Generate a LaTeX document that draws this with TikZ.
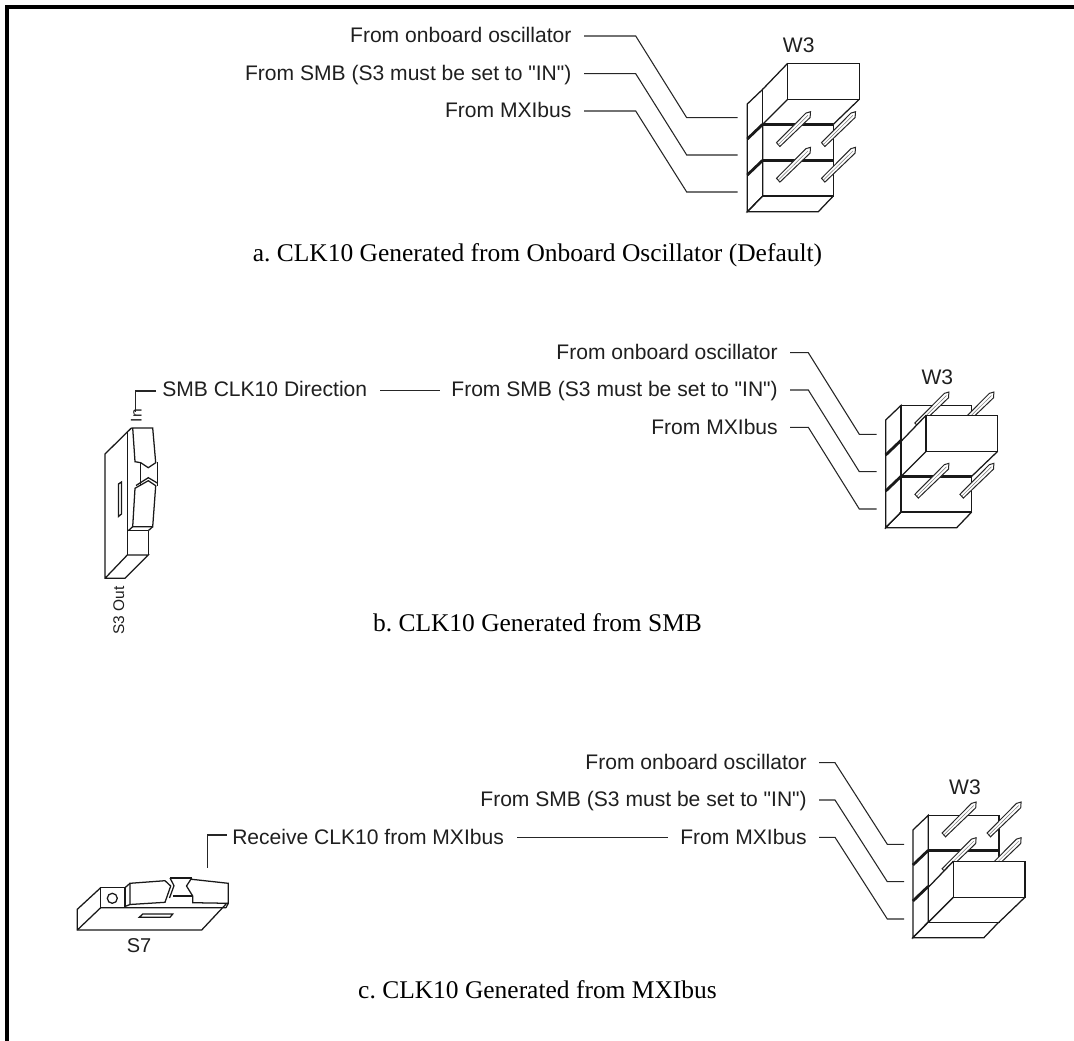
\documentclass[tikz,border=0pt]{standalone}
\usepackage{fontspec}
\setmainfont{Liberation Serif}
\newfontfamily\labelfont{Liberation Sans}
\frenchspacing
\newcommand{\pinshape}[2]{%
  \begin{scope}[shift={(#1,#2)}]
    \draw[pinline,fill=white] (0,0) -- (3.4,3.8) -- (33.6,-25.2) -- (34,-31) -- (29.4,-29.6) -- cycle;
    \draw[black!55,line width=0.35pt] (1.7,1.9) -- (31.5,-27.4);
  \end{scope}}
\newcommand{\jumper}[4]{%
 % #1,#2 shift ; #3 shunt offset ; #4 style of shunt bottom edge
 \begin{scope}[shift={(#1,#2)}]
  \draw[thin line] (747.3,104) -- (762.7,89.3) -- (762.7,196) -- (747.3,211.7) -- cycle;
  \draw[thin line] (762.7,89.3) -- (833.3,89.3) -- (833.3,196) -- (762.7,196);
  \draw[thin line] (762.7,196) -- (747.3,211.7) -- (818.3,211.7) -- (833.3,196);
  \draw[thick line] (762.7,124.3) -- (833.3,124.3);
  \draw[thick line] (762.7,160.3) -- (833.3,160.3);
  \draw[thick line] (747.3,139) -- (762.7,124.3);
  \draw[thick line] (747.3,175) -- (762.7,160.3);
  % pin rows behind the shunt
  \ifdim#3pt>0pt
    \pinshape{776.5}{107}\pinshape{821.5}{107}
  \fi
  \ifdim#3pt>36pt
    \pinshape{776.5}{142.7}\pinshape{821.5}{142.7}
  \fi
  \begin{scope}[shift={(0,#3)}]
   \fill[white] (787.7,63.3) -- (859.3,63.3) -- (859.3,99.3) -- (833.3,124.3) -- (762.7,124.3) -- (762.7,89.3) -- cycle;
   \draw[thin line] (787.7,63.3) rectangle (859.3,99.3);
   \draw[thin line] (787.7,63.3) -- (762.7,89.3);
   \draw[thin line] (787.7,99.3) -- (762.7,124.3);
   \draw[thin line] (859.3,99.3) -- (833.3,124.3);
   \draw[#4] (762.7,124.3) -- (833.3,124.3);
  \end{scope}
  \draw[thin line] (762.7,89.3) -- (762.7,196);
  % pin rows in front of the shunt
  \ifdim#3pt<36pt
    \pinshape{776.5}{142.7}\pinshape{821.5}{142.7}
  \fi
  \ifdim#3pt<72pt
    \pinshape{776.5}{178.3}\pinshape{821.5}{178.3}
  \fi
 \end{scope}}
\tikzset{
  thin line/.style={line width=0.95pt,line join=miter,black!90},
  thick line/.style={line width=2.1pt,black!90},
  pinline/.style={line width=0.75pt,line join=miter,black!85},
  leader/.style={line width=0.8pt,black!85},
  frameline/.style={line width=3pt,black},
  lab/.style={font=\labelfont\fontsize{15.8}{18}\selectfont,inner sep=0pt,text=black!88},
  smalllab/.style={font=\labelfont\fontsize{11.6}{13}\selectfont,inner sep=0pt,text=black!88},
  capt/.style={font=\fontsize{19.1}{22}\selectfont,inner sep=0pt,anchor=base,text=black},
}
\begin{document}
\begin{tikzpicture}[x=0.75pt,y=-0.75pt]
\useasboundingbox (0,0) rectangle (1074,1041);
% frame
\coordinate (fa) at (6.5,1041);
\coordinate (fb) at (6.5,7);
\coordinate (fc) at (1074,7);
\draw[frameline] (fa) -- (fb) -- (fc);

% --- a ---
\jumper{0}{0}{0}{thick line}
\node[lab,anchor=base] (wa) at (798.7,52.7) {W3};
\node[lab,anchor=base east] (a1) at (571.7,42.7) {From onboard oscillator};
\node[lab,anchor=base east] (a2) at (571.7,80.4) {From SMB (S3 must be set to "IN")};
\node[lab,anchor=base east] (a3) at (571.7,117.7) {From MXIbus};
\coordinate (a1s) at (584,36);   \coordinate (a1e) at (737.7,117.7);
\coordinate (a2s) at (584,73.7); \coordinate (a2e) at (737.7,155);
\coordinate (a3s) at (584,111);  \coordinate (a3e) at (737.7,192);
\draw[leader] (a1s) -- (635.7,36) -- (686.7,117.7) -- (a1e);
\draw[leader] (a2s) -- (635.7,73.7) -- (686.7,155) -- (a2e);
\draw[leader] (a3s) -- (635.7,111) -- (686.7,192) -- (a3e);
\node[capt] (ca) at (537.5,261.5) {a. CLK10 Generated from Onboard Oscillator (Default)};

% --- b ---
\jumper{138.4}{316}{36}{thick line}
\node[lab,anchor=base] (wb) at (937.3,384.3) {W3};
\node[lab,anchor=base east] (b1) at (778,359.4) {From onboard oscillator};
\node[lab,anchor=base east] (b2) at (778,396.7) {From SMB (S3 must be set to "IN")};
\node[lab,anchor=base east] (b3) at (778,434) {From MXIbus};
\coordinate (b1s) at (790,352.7); \coordinate (b1e) at (876.7,434.3);
\coordinate (b2s) at (790,390);   \coordinate (b2e) at (876.7,471.7);
\coordinate (b3s) at (790,427.3); \coordinate (b3e) at (876.7,509);
\draw[leader] (b1s) -- (808.3,352.7) -- (859.3,434.3) -- (b1e);
\draw[leader] (b2s) -- (808.3,390) -- (859.3,471.7) -- (b2e);
\draw[leader] (b3s) -- (808.3,427.3) -- (859.3,509) -- (b3e);
\node[lab,anchor=base west] (bd) at (162,396.7) {SMB CLK10 Direction};
\coordinate (bd1) at (380,390.3); \coordinate (bd2) at (440,390.3);
\draw[leader] (bd1) -- (bd2);
\coordinate (bin1) at (156,391); \coordinate (bin2) at (135.7,411.7);
\draw[leader] (bin1) -- (135.7,391) -- (bin2);
\node[smalllab,rotate=90,anchor=base] (bin) at (141.7,415.7) {In};
\node[smalllab,rotate=90,anchor=base] (bout) at (124,610.5) {S3 Out};
\node[capt] (cb) at (537.5,631) {b. CLK10 Generated from SMB};
% S3 switch
\draw[thin line] (131.7,427.7) -- (105,454) -- (105,578.3) -- (125,578.3) -- (148.3,555) -- (127.3,555) -- (105,578.3);
\draw[thin line] (127.3,432.3) -- (127.3,555);
\draw[thin line] (148.3,530.7) -- (148.3,555);
\draw[thin line] (127.3,530.7) -- (148.3,530.7);
\draw[thin line] (118.5,484) -- (121.5,482) -- (121.5,514) -- (118.5,516.5) -- cycle;
% S3 rocker
\draw[thin line] (132.7,428) -- (152.7,428) -- (155.7,462.7) -- (148.3,467.7) -- (140.7,462.7) -- (135,461.7) -- cycle;
\draw[thin line] (140.7,462.7) -- (140.7,486);
\draw[thin line] (157.3,462) -- (157.3,486);
\draw[thin line] (135,488.3) -- (148.3,480.7) -- (155.7,485.7) -- (152.7,526.7) -- (132.7,526.7) -- cycle;
\draw[thin line] (136,485.5) -- (148.3,477.7) -- (157.3,483);
\draw[thin line] (132.7,526.7) -- (128.3,530.7);
\draw[thin line] (152.7,526.7) -- (148.3,530.7);

% --- c ---
\jumper{165.6}{726}{72}{thin line}
\node[lab,anchor=base] (wc) at (965,794.7) {W3};
\node[lab,anchor=base east] (c1) at (807,769.4) {From onboard oscillator};
\node[lab,anchor=base east] (c2) at (807,806.7) {From SMB (S3 must be set to "IN")};
\node[lab,anchor=base east] (c3) at (807,844) {From MXIbus};
\coordinate (c1s) at (819,762.7); \coordinate (c1e) at (904,844.3);
\coordinate (c2s) at (819,800);   \coordinate (c2e) at (904,881.7);
\coordinate (c3s) at (819,837.3); \coordinate (c3e) at (904,919);
\draw[leader] (c1s) -- (835,762.7) -- (887.3,844.3) -- (c1e);
\draw[leader] (c2s) -- (835,800) -- (887.3,881.7) -- (c2e);
\draw[leader] (c3s) -- (835,837.3) -- (887.3,919) -- (c3e);
\node[lab,anchor=base west] (cr) at (232,844) {Receive CLK10 from MXIbus};
\coordinate (cr1) at (517,837.3); \coordinate (cr2) at (668,837.3);
\draw[leader] (cr1) -- (cr2);
\coordinate (cv1) at (226.7,835); \coordinate (cv2) at (207.7,868.3);
\draw[leader] (cv1) -- (207.7,835) -- (cv2);
\node[lab,anchor=base,font=\labelfont\fontsize{15}{18}\selectfont] (s7) at (139,952) {S7};
\node[capt] (cc) at (537.5,998) {c. CLK10 Generated from MXIbus};
% S7 switch
\draw[thin line] (100.7,887.7) -- (77.3,909.3) -- (77.3,930) -- (201.7,930) -- (226.7,903.3);
\draw[thin line] (77.3,930) -- (100.7,907.7) -- (226,907.7);
\draw[thin line] (100.7,887.7) rectangle (125,907.7);
\draw[thin line] (112.3,898.3) circle[radius=5];
\draw[thin line] (139.3,917.3) -- (142.7,914) -- (172.7,914) -- (170,917.3) -- cycle;
% S7 rocker
\draw[thin line] (125,887.7) -- (130,883.3);
\draw[thin line] (130,883.3) -- (165,880.7) -- (170.7,886) -- (165,902.3) -- (130,904.5) -- cycle;
\draw[thin line] (125,906.5) -- (130,904.5);
\draw[thin line] (170,878) -- (191.7,878);
\draw[thin line] (170,878) -- (174,885.7) -- (169.5,898);
\draw[thin line] (173.3,896) -- (192.7,896);
\draw[thin line] (191.7,878) -- (186.5,886) -- (192.7,896) -- (192.7,902.7) -- (228.3,903.3) -- (228.3,883.3) -- (191.7,879.3);
\draw[thin line] (228.3,903.3) -- (226,907.7);
\end{tikzpicture}
\end{document}
